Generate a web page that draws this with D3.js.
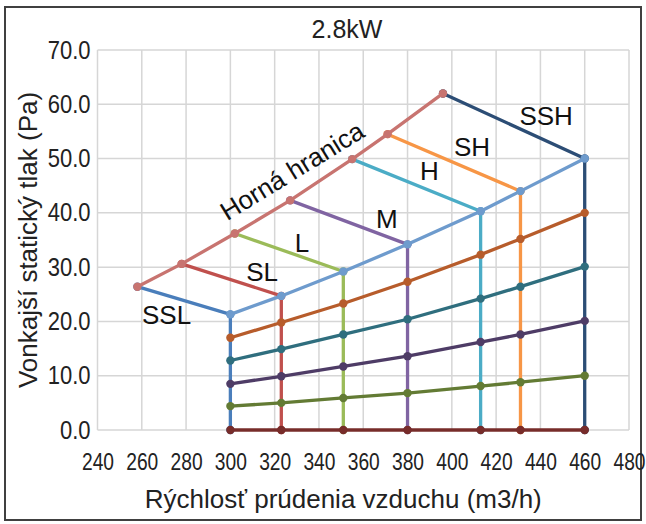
<!DOCTYPE html>
<html>
<head>
<meta charset="utf-8">
<script src="https://cdn.jsdelivr.net/npm/d3@7"></script>
<style>
  html, body { margin: 0; padding: 0; background: #fff; }
  svg { display: block; font-family: "Liberation Sans", Arial, sans-serif; }
</style>
</head>
<body>
<svg id="chart" width="646" height="524"></svg>
<script>
// Fan performance diagram, 2.8kW unit: external static pressure vs. airflow.

const chartTitle = "2.8kW";
const xTitle = "Rýchlosť prúdenia vzduchu (m3/h)";
const yTitle = "Vonkajší statický tlak (Pa)";

const xTickValues = [240, 260, 280, 300, 320, 340, 360, 380, 400, 420, 440, 460, 480];
const yTickValues = [0, 10, 20, 30, 40, 50, 60, 70];

// Fan speed settings and their operating airflow (m3/h)
const speedNames = ["SSL", "SL", "L", "M", "H", "SH", "SSH"];
const speedFlow = [300, 323, 351, 380, 413, 431, 460];

// Maximum pressure reached at each speed (Pa)
const maxPressure = [21.3, 24.7, 29.2, 34.2, 40.3, 44.0, 50.0];

// Resistance curves through the speed points (Pa)
const curve40 = [17.0, 19.8, 23.3, 27.3, 32.3, 35.2, 40.0];
const curve30 = [12.8, 14.9, 17.6, 20.4, 24.2, 26.4, 30.1];
const curve20 = [8.5, 9.9, 11.7, 13.6, 16.2, 17.6, 20.1];
const curve10 = [4.4, 5.0, 5.9, 6.8, 8.1, 8.8, 10.0];
const curve0 = [0, 0, 0, 0, 0, 0, 0];

// Upper limit ("Horná hranica")
const upperLabel = "Horná hranica";
const upperFlow = [258, 278, 302, 327, 355, 371, 396];
const upperPressure = [26.4, 30.6, 36.2, 42.3, 49.9, 54.5, 62.0];

// ---- styling ----
const speedColors = ["#4a7ebb", "#c0504d", "#9bbb59", "#8064a2", "#4bacc6", "#f79646", "#2c4d75"];
const curveColors = ["#b75c2b", "#2f6e7e", "#4e3c66", "#637b34", "#772c2a"];
const maxColor = "#6e9bcd";
const upperColor = "#c87470";

const svg = d3.select("#chart");
const plot = { left: 97.5, right: 629, top: 50, bottom: 430 };

const x = d3.scaleLinear().domain([240, 480]).range([plot.left, plot.right]);
const y = d3.scaleLinear().domain([0, 70]).range([plot.bottom, plot.top]);

// Outer frame
svg.append("rect")
  .attr("x", 5).attr("y", 7).attr("width", 636).attr("height", 513)
  .attr("fill", "#fff").attr("stroke", "#404040").attr("stroke-width", 2);

// Grid
const grid = svg.append("g");
grid.selectAll(".gx").data(xTickValues).join("line")
  .attr("x1", d => x(d)).attr("x2", d => x(d))
  .attr("y1", plot.top).attr("y2", plot.bottom)
  .attr("stroke", "#d6d6d6").attr("stroke-width", 1.5);
grid.selectAll(".gy").data(yTickValues).join("line")
  .attr("x1", plot.left).attr("x2", plot.right)
  .attr("y1", d => y(d)).attr("y2", d => y(d))
  .attr("stroke", "#d6d6d6").attr("stroke-width", 1.5);

// Axes (labels only; grid drawn above)
const xSqueeze = 0.8, ySqueeze = 0.88;
const xAxis = svg.append("g")
  .attr("transform", `translate(0,${plot.bottom})`)
  .call(d3.axisBottom(x).tickValues(xTickValues).tickSize(0).tickPadding(23).tickFormat(d3.format("d")));
xAxis.select(".domain").remove();
xAxis.selectAll("text")
  .attr("font-size", 24).attr("fill", "#222")
  .attr("font-family", "'Liberation Sans', Arial, sans-serif")
  .attr("transform", `scale(${xSqueeze},1)`);

const yAxis = svg.append("g")
  .attr("transform", `translate(${plot.left},0)`)
  .call(d3.axisLeft(y).tickValues(yTickValues).tickSize(0).tickFormat(d3.format(".1f")));
yAxis.select(".domain").remove();
yAxis.selectAll("text")
  .attr("font-size", 25).attr("fill", "#222")
  .attr("font-family", "'Liberation Sans', Arial, sans-serif")
  .attr("x", -7 / ySqueeze)
  .attr("transform", `scale(${ySqueeze},1)`);

// Titles
svg.append("text")
  .attr("x", 347).attr("y", 38).attr("text-anchor", "middle")
  .attr("font-size", 25).attr("fill", "#222").text(chartTitle);
svg.append("text")
  .attr("x", (plot.left + plot.right) / 2 - 20).attr("y", 508).attr("text-anchor", "middle")
  .attr("font-size", 26).attr("fill", "#222").text(xTitle);
svg.append("text")
  .attr("transform", `translate(37,${(plot.top + plot.bottom) / 2}) rotate(-90)`)
  .attr("text-anchor", "middle")
  .attr("font-size", 26).attr("fill", "#222").text(yTitle);

const line = d3.line().x(d => x(d[0])).y(d => y(d[1]));
const marks = svg.append("g");

function drawSeries(points, color) {
  marks.append("path")
    .datum(points)
    .attr("d", line)
    .attr("fill", "none")
    .attr("stroke", color)
    .attr("stroke-width", 3.3)
    .attr("stroke-linejoin", "round");
  marks.append("g").selectAll("circle").data(points).join("circle")
    .attr("cx", d => x(d[0])).attr("cy", d => y(d[1]))
    .attr("r", 4.2).attr("fill", color);
}

// Speed lines: vertical from 0 up to max pressure, then to the upper limit
speedNames.forEach((name, i) => {
  drawSeries([
    [speedFlow[i], 0],
    [speedFlow[i], maxPressure[i]],
    [upperFlow[i], upperPressure[i]]
  ], speedColors[i]);
});

// Resistance curves
[curve40, curve30, curve20, curve10, curve0].forEach((vals, k) => {
  drawSeries(speedFlow.map((f, i) => [f, vals[i]]), curveColors[k]);
});

// Maximum pressure line
drawSeries(speedFlow.map((f, i) => [f, maxPressure[i]]), maxColor);

// Upper limit line
drawSeries(upperFlow.map((f, i) => [f, upperPressure[i]]), upperColor);

// Labels for each speed line, placed in data coordinates
const speedLabelPos = [
  [271.2, 19.5], [314.3, 27.4], [332.3, 32.8], [370.6, 37.3],
  [389.9, 46.05], [409.1, 50.5], [442.6, 56.1]
];
svg.append("g").selectAll("text").data(speedNames).join("text")
  .attr("x", (d, i) => x(speedLabelPos[i][0]))
  .attr("y", (d, i) => y(speedLabelPos[i][1]))
  .attr("text-anchor", "middle")
  .attr("font-size", 26).attr("fill", "#111")
  .text(d => d);

// Upper limit label, rotated along its line
const ulx = x(330), uly = y(46.3);
svg.append("text")
  .attr("transform", `translate(${ulx},${uly}) rotate(-31.5)`)
  .attr("text-anchor", "middle")
  .attr("font-size", 26).attr("fill", "#111")
  .text(upperLabel);
</script>
</body>
</html>
